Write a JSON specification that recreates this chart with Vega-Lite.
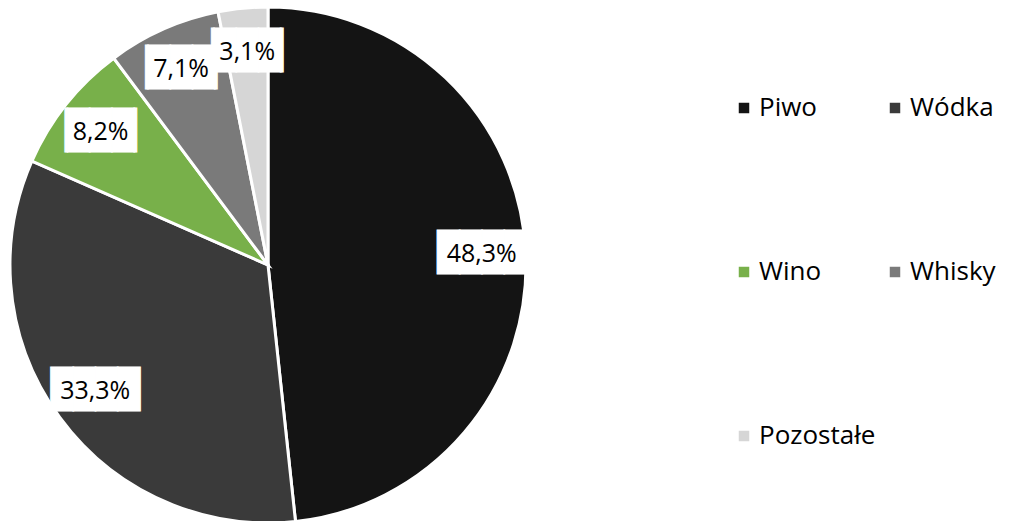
{
  "$schema": "https://vega.github.io/schema/vega-lite/v6.json",
  "width": 536,
  "height": 530,
  "padding": 0,
  "autosize": {"type": "pad"},
  "background": "white",
  "view": {"stroke": null},
  "data": {
    "values": [
      {"kategoria": "Piwo", "udzial": 48.3, "etykieta": "48,3%", "kolejnosc": 1},
      {"kategoria": "Wódka", "udzial": 33.3, "etykieta": "33,3%", "kolejnosc": 2},
      {"kategoria": "Wino", "udzial": 8.2, "etykieta": "8,2%", "kolejnosc": 3},
      {"kategoria": "Whisky", "udzial": 7.1, "etykieta": "7,1%", "kolejnosc": 4},
      {"kategoria": "Pozostałe", "udzial": 3.1, "etykieta": "3,1%", "kolejnosc": 5}
    ]
  },
  "encoding": {
    "theta": {"field": "udzial", "type": "quantitative", "stack": true},
    "order": {"field": "kolejnosc", "type": "quantitative", "sort": "ascending"}
  },
  "layer": [
    {
      "mark": {"type": "arc", "outerRadius": 258, "stroke": "white", "strokeWidth": 3},
      "encoding": {
        "color": {
          "field": "kategoria",
          "type": "nominal",
          "sort": ["Piwo", "Wódka", "Wino", "Whisky", "Pozostałe"],
          "scale": {
            "domain": ["Piwo", "Wódka", "Wino", "Whisky", "Pozostałe"],
            "range": ["#141414", "#3a3a3a", "#78b04a", "#7a7a7a", "#d6d6d6"]
          },
          "legend": {
            "orient": "none",
            "direction": "horizontal",
            "legendX": 731,
            "legendY": 95,
            "columns": 2,
            "title": null,
            "labelFont": "Open Sans",
            "labelFontSize": 26,
            "labelColor": "black",
            "symbolType": "square",
            "symbolSize": 110,
            "symbolStrokeWidth": 0,
            "rowPadding": 138,
            "columnPadding": 6,
            "labelOffset": 2,
            "labelLimit": 300
          }
        }
      }
    },
    {
      "mark": {"type": "text", "radius": 214, "font": "DejaVu Sans Mono", "fontSize": 37, "color": "white", "stroke": "white", "strokeWidth": 1, "baseline": "middle", "align": "center"},
      "encoding": {
        "text": {"condition": {"test": "datum.udzial >= 10", "value": "████"}, "value": "▕███▏"}
      }
    },
    {
      "mark": {"type": "text", "radius": 214, "font": "Open Sans", "fontSize": 25, "color": "black", "baseline": "middle", "align": "center"},
      "encoding": {
        "text": {"field": "etykieta", "type": "nominal"}
      }
    }
  ]
}
